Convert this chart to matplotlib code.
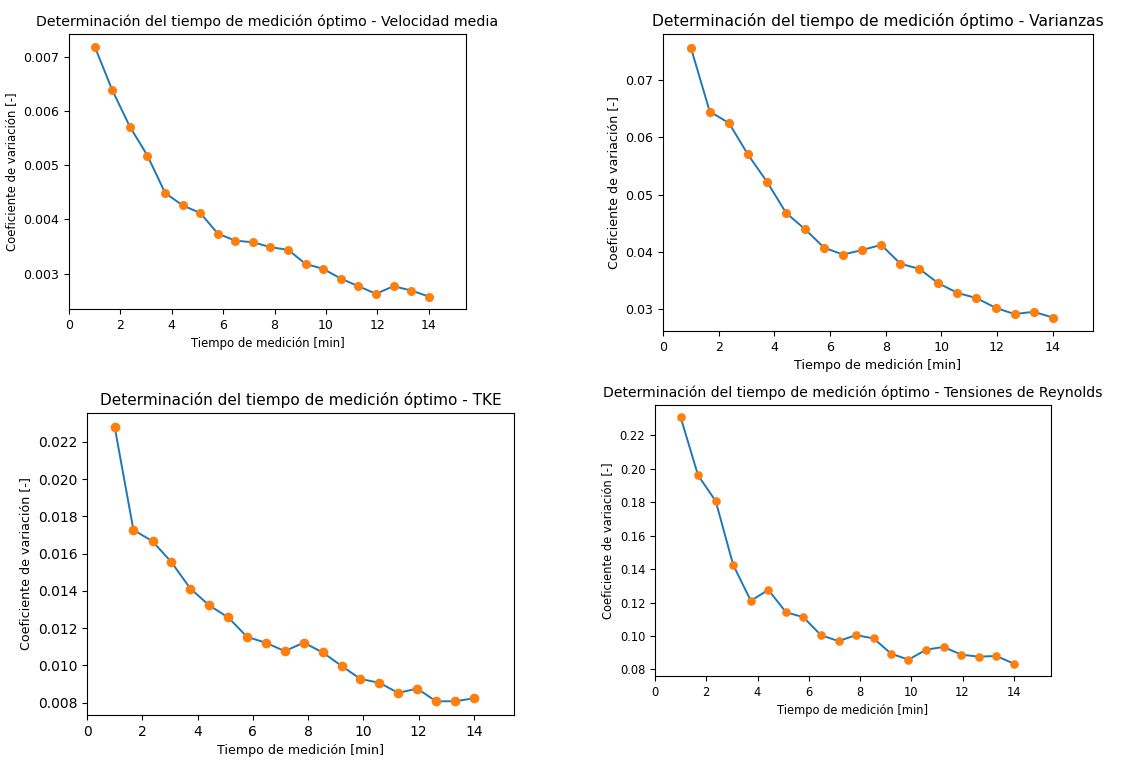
import matplotlib
matplotlib.use("Agg")
import matplotlib.pyplot as plt

# tiempos de medición [min]
tiempo = [1.0, 1.68, 2.37, 3.05, 3.74, 4.42, 5.11, 5.79, 6.47, 7.16,
          7.84, 8.53, 9.21, 9.89, 10.58, 11.26, 11.95, 12.63, 13.32, 14.0]

cv_velocidad = [0.00719, 0.00639, 0.00571, 0.00518, 0.00449, 0.00426, 0.00412,
                0.00374, 0.00361, 0.00358, 0.00349, 0.00344, 0.00318, 0.00309,
                0.00291, 0.00277, 0.00263, 0.00277, 0.00269, 0.00258]
cv_varianzas = [0.0757, 0.0645, 0.0625, 0.0570, 0.0522, 0.0468, 0.0439,
                0.0407, 0.0395, 0.0403, 0.0412, 0.0379, 0.0370, 0.0345,
                0.0328, 0.0319, 0.0302, 0.0291, 0.0295, 0.0285]
cv_tke = [0.02281, 0.01727, 0.01666, 0.01555, 0.01412, 0.01322, 0.01257,
          0.01153, 0.01121, 0.01076, 0.01122, 0.01069, 0.00997, 0.00927,
          0.00906, 0.00852, 0.00875, 0.00807, 0.00807, 0.00823]
cv_reynolds = [0.2308, 0.1961, 0.1806, 0.1425, 0.1210, 0.1276, 0.1142,
               0.1112, 0.1005, 0.0969, 0.1005, 0.0985, 0.0894, 0.0858,
               0.0918, 0.0934, 0.0888, 0.0876, 0.0880, 0.0834]

titulo = "Determinación del tiempo de medición óptimo - "

W, H = 1145, 760
fig = plt.figure(figsize=(W / 100, H / 100), dpi=100)

# (izq, der, arriba, abajo) en píxeles, tamaños (título, etiquetas, ticks, marcador)
paneles = [
    ((69, 466, 34, 309), (10.2, 8.4, 9.0, 5.5), cv_velocidad, "Velocidad media"),
    ((663, 1093, 34, 331), (11.2, 9.1, 9.1, 5.6), cv_varianzas, "Varianzas"),
    ((87, 514, 413, 715), (11.0, 9.1, 10.0, 6.0), cv_tke, "TKE"),
    ((655, 1051, 405, 676), (10.1, 8.3, 8.3, 5.2), cv_reynolds, "Tensiones de Reynolds"),
]

for (l, r, t, b), (fs_t, fs_l, fs_k, ms), datos, nombre in paneles:
    ax = fig.add_axes([l / W, (H - b) / H, (r - l) / W, (b - t) / H])
    ax.plot(tiempo, datos, color="C0", lw=1.4)
    ax.plot(tiempo, datos, "o", color="C1", ms=ms)
    ax.set_xlim(0, 15.45)
    ax.set_title(titulo + nombre, fontsize=fs_t)
    ax.set_xlabel("Tiempo de medición [min]", fontsize=fs_l)
    ax.set_ylabel("Coeficiente de variación [-]", fontsize=fs_l)
    ax.tick_params(labelsize=fs_k)

fig.savefig("out.png", dpi=100)
